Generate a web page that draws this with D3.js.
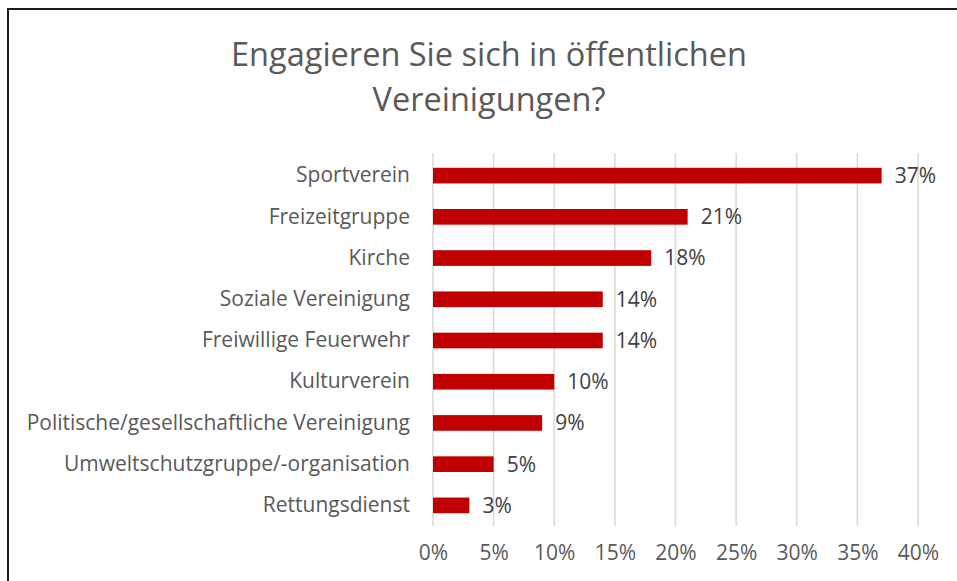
<!DOCTYPE html>
<html>
<head>
<meta charset="utf-8">
<script src="https://cdn.jsdelivr.net/npm/d3@7"></script>
<style>
  html, body { margin: 0; padding: 0; background: #fff; }
  svg { display: block; }
</style>
</head>
<body>
<svg id="chart" width="957" height="581"></svg>
<script>
// data
const categories = [
    'Sportverein',
    'Freizeitgruppe',
    'Kirche',
    'Soziale Vereinigung',
    'Freiwillige Feuerwehr',
    'Kulturverein',
    'Politische/gesellschaftliche Vereinigung',
    'Umweltschutzgruppe/-organisation',
    'Rettungsdienst',
];
const values = [37, 21, 18, 14, 14, 10, 9, 5, 3];
const xTicks = [0, 5, 10, 15, 20, 25, 30, 35, 40];
const titleLines = ['Engagieren Sie sich in öffentlichen', 'Vereinigungen?'];

const width = 957;
const height = 581;
const font = '"Open Sans", "Noto Sans", sans-serif';

const svg = d3.select('#chart');

// frame
svg.append('rect')
    .attr('x', 8).attr('y', 9)
    .attr('width', width).attr('height', height)
    .attr('fill', '#fff')
    .attr('stroke', '#1a1a1a')
    .attr('stroke-width', 2);

// title
svg.append('g').selectAll('text')
    .data(titleLines)
    .join('text')
    .attr('x', 489)
    .attr('y', (d, i) => 66 + i * 45)
    .attr('text-anchor', 'middle')
    .attr('font-family', font)
    .attr('font-size', 32.5)
    .attr('fill', '#595959')
    .text(d => d);

var x = d3.scaleLinear()
    .domain([0, 40])
    .range([433, 918]);

var y = d3.scaleBand()
    .domain(categories)
    .range([155, 526])
    .paddingInner(0.62)
    .paddingOuter(0.31);

// grid
svg.append('g')
    .selectAll('line')
    .data(xTicks)
    .join('line')
    .attr('x1', d => x(d)).attr('x2', d => x(d))
    .attr('y1', 153).attr('y2', 526)
    .attr('stroke', '#d9d9d9')
    .attr('stroke-width', 1.5);

// x axis labels
var xAxis = svg.append('g')
    .attr('transform', 'translate(0,526)')
    .call(d3.axisBottom(x).tickValues(xTicks).tickFormat(d => d + '%').tickSize(0).tickPadding(19));
xAxis.select('.domain').remove();
xAxis.selectAll('text')
    .attr('font-family', font)
    .attr('font-size', 21)
    .attr('fill', '#595959');

// y axis labels
var yAxis = svg.append('g')
    .attr('transform', 'translate(433,0)')
    .call(d3.axisLeft(y).tickSize(0).tickPadding(23));
yAxis.select('.domain').remove();
yAxis.selectAll('text')
    .attr('font-family', font)
    .attr('font-size', 21)
    .attr('fill', '#595959');

// bars
svg.append('g')
    .selectAll('rect')
    .data(values)
    .join('rect')
    .attr('x', x(0))
    .attr('y', (d, i) => y(categories[i]))
    .attr('width', d => x(d) - x(0))
    .attr('height', y.bandwidth())
    .attr('fill', '#c00000');

// value labels
svg.append('g')
    .selectAll('text')
    .data(values)
    .join('text')
    .attr('x', d => x(d) + 13)
    .attr('y', (d, i) => y(categories[i]) + y.bandwidth() / 2)
    .attr('dy', '0.35em')
    .attr('font-family', font)
    .attr('font-size', 21)
    .attr('fill', '#404040')
    .text(d => d + '%');
</script>
</body>
</html>
